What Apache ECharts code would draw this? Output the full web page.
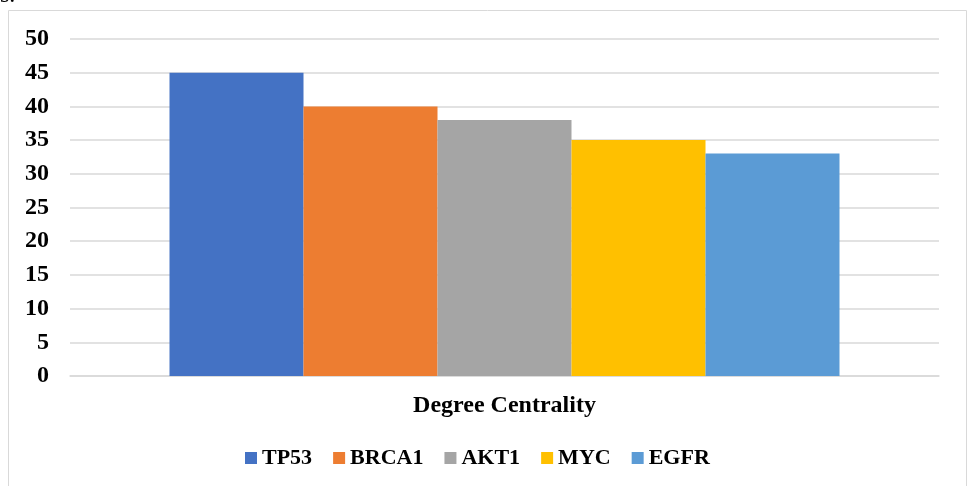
<!DOCTYPE html>
<html>
<head>
<meta charset="utf-8">
<script src="https://cdn.jsdelivr.net/npm/echarts@6/dist/echarts.min.js"></script>
<style>
  html, body { margin: 0; padding: 0; background: #fff; }
  #chart { width: 968px; height: 486px; }
</style>
</head>
<body>
<div id="chart"></div>
<script>
// categories and values
const categories = ["Degree Centrality"];
const genes = ["TP53", "BRCA1", "AKT1", "MYC", "EGFR"];
const degree = [45, 40, 38, 35, 33];
const colors = ["#4472c4", "#ed7d31", "#a5a5a5", "#ffc000", "#5b9bd5"];

const font = "'Liberation Serif', 'Times New Roman', serif";

const chart = echarts.init(document.getElementById("chart"));

let option = {
  animation: false,
  textStyle: { fontFamily: font },
  grid: { left: 70, right: 29, top: 39, bottom: 110, containLabel: false },
  // frame round the chart, and the cut-off text above it
  graphic: [
    {
      type: "rect",
      shape: { x: 8.5, y: 10.5, width: 958, height: 500 },
      style: { fill: "none", stroke: "#d9d9d9", lineWidth: 1 },
      silent: true
    },
    {
      type: "text",
      left: 0,
      top: -16,
      style: { text: "s.", font: "24px " + font, fill: "#000" },
      silent: true
    }
  ],
  xAxis: {
    type: "category",
    data: categories,
    axisLine: { lineStyle: { color: "#d9d9d9", width: 1.5 } },
    axisTick: { show: false },
    axisLabel: {
      color: "#000",
      fontWeight: "bold",
      fontSize: 24,
      fontFamily: font,
      margin: 18
    }
  },
  yAxis: {
    type: "value",
    min: 0,
    max: 50,
    interval: 5,
    axisLine: { show: false },
    axisTick: { show: false },
    splitLine: { lineStyle: { color: "#d9d9d9", width: 1.5 } },
    axisLabel: {
      color: "#000",
      fontWeight: "bold",
      fontSize: 24,
      fontFamily: font,
      margin: 21
    }
  },
  legend: {
    bottom: 12,
    left: 240,
    icon: "rect",
    itemWidth: 12,
    itemHeight: 12,
    itemGap: 21,
    textStyle: {
      color: "#000",
      fontWeight: "bold",
      fontSize: 22,
      fontFamily: font
    },
    data: genes
  },
  series: genes.map((g, i) => ({
    name: g,
    type: "bar",
    barWidth: 134,
    barGap: "0%",
    itemStyle: { color: colors[i] },
    data: [degree[i]]
  }))
};

chart.setOption(option);
</script>
</body>
</html>
